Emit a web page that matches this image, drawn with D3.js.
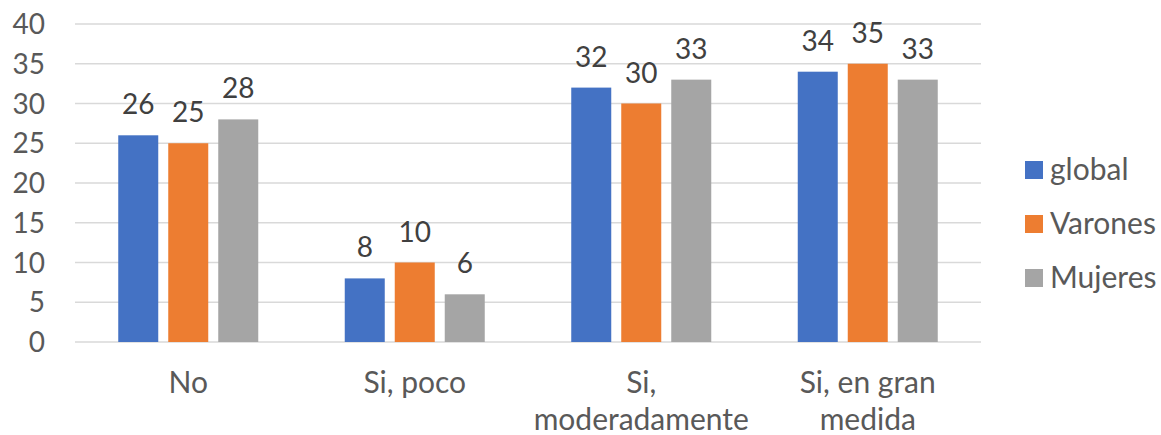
<!DOCTYPE html>
<html><head><meta charset="utf-8">
<script src="https://cdn.jsdelivr.net/npm/d3@7"></script>
<style>body{margin:0;background:#fff;}svg{display:block;font-family:Lato,"Open Sans",sans-serif;}</style>
</head><body>
<svg id="c" width="1161" height="435"></svg>
<script>
const categories = [["No"], ["Si, poco"], ["Si,", "moderadamente"], ["Si, en gran", "medida"]];
const seriesNames = ["global", "Varones", "Mujeres"];
const globalVals = [26, 8, 32, 34];
const varonesVals = [25, 10, 30, 35];
const mujeresVals = [28, 6, 33, 33];
const yTicks = [0, 5, 10, 15, 20, 25, 30, 35, 40];
const colors = ["#4472C4", "#ED7D31", "#A5A5A5"];

(function () {
const series = [globalVals, varonesVals, mujeresVals];
const svg = d3.select("#c");
const pLeft = 75, pRight = 981, pTop = 24, pBottom = 342;
const fs = 28, fsText = 30;

const x = d3.scaleBand().domain(d3.range(categories.length)).range([pLeft, pRight]).paddingInner(0).paddingOuter(0);
const y = d3.scaleLinear().domain([0, 40]).range([pBottom, pTop]);
const bw = 40, step = 50;

svg.append("g").selectAll("line").data(yTicks).join("line")
  .attr("x1", pLeft).attr("x2", pRight)
  .attr("y1", d => y(d)).attr("y2", d => y(d))
  .attr("stroke", "#d9d9d9").attr("stroke-width", 1.5);

svg.append("g").selectAll("text").data(yTicks).join("text")
  .attr("x", 45).attr("y", d => y(d) + 10)
  .attr("text-anchor", "end").attr("fill", "#595959").attr("font-size", fs)
  .text(d => d);

series.forEach((vals, si) => {
  const g = svg.append("g");
  const cx = i => x(i) + x.bandwidth() / 2 + (si - 1) * step;
  g.selectAll("rect").data(vals).join("rect")
    .attr("x", (d, i) => cx(i) - bw / 2).attr("width", bw)
    .attr("y", d => y(d)).attr("height", d => y(0) - y(d))
    .attr("fill", colors[si]);
  g.selectAll("text").data(vals).join("text")
    .attr("x", (d, i) => cx(i)).attr("y", d => y(d) - 21)
    .attr("text-anchor", "middle").attr("fill", "#404040").attr("font-size", fs)
    .text(d => d);
});

categories.forEach((lines, i) => {
  const t = svg.append("text").attr("text-anchor", "middle").attr("fill", "#595959").attr("font-size", fsText);
  lines.forEach((ln, j) => {
    t.append("tspan").attr("x", x(i) + x.bandwidth() / 2).attr("y", 393 + j * 37).text(ln);
  });
});

const lg = svg.append("g");
seriesNames.forEach((n, i) => {
  lg.append("rect").attr("x", 1025).attr("y", 161 + i * 54).attr("width", 18).attr("height", 18).attr("fill", colors[i]);
  lg.append("text").attr("x", 1050).attr("y", 180 + i * 54).attr("fill", "#595959").attr("font-size", fsText).text(n);
});
})();
</script>
</body></html>
